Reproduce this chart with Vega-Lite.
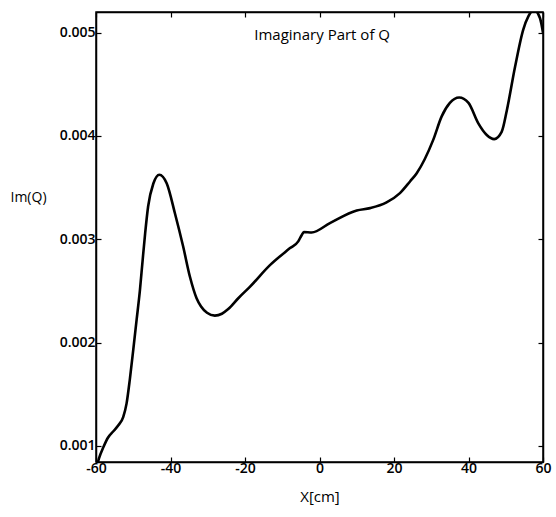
{
  "$schema": "https://vega.github.io/schema/vega-lite/v6.json",
  "width": 447,
  "height": 450,
  "autosize": {"type": "none"},
  "padding": {"left": 96, "top": 12, "right": 13, "bottom": 55},
  "background": "white",
  "config": {
    "view": {"stroke": "black", "strokeWidth": 1.5},
    "font": "Open Sans",
    "axis": {"grid": false, "domainColor": "black", "domainWidth": 1.5, "tickColor": "black", "tickWidth": 1.2, "labelColor": "black", "titleColor": "black"}
  },
  "data": {
    "values": [
      {"x": -59.8, "y": 0.00080},
      {"x": -59.2, "y": 0.00088},
      {"x": -58.0, "y": 0.00099},
      {"x": -56.8, "y": 0.00108},
      {"x": -55.4, "y": 0.00114},
      {"x": -54.0, "y": 0.00120},
      {"x": -52.7, "y": 0.00128},
      {"x": -51.8, "y": 0.00141},
      {"x": -50.9, "y": 0.00165},
      {"x": -50.0, "y": 0.00193},
      {"x": -49.1, "y": 0.00222},
      {"x": -48.2, "y": 0.00251},
      {"x": -47.5, "y": 0.00279},
      {"x": -46.8, "y": 0.00306},
      {"x": -46.0, "y": 0.00332},
      {"x": -44.6, "y": 0.00354},
      {"x": -43.0, "y": 0.003625},
      {"x": -41.0, "y": 0.00354},
      {"x": -38.8, "y": 0.00325},
      {"x": -36.6, "y": 0.00293},
      {"x": -34.8, "y": 0.00264},
      {"x": -33.0, "y": 0.00243},
      {"x": -31.8, "y": 0.00235},
      {"x": -30.2, "y": 0.00229},
      {"x": -28.1, "y": 0.002262},
      {"x": -26.2, "y": 0.00228},
      {"x": -24.5, "y": 0.002325},
      {"x": -21.8, "y": 0.00243},
      {"x": -18.7, "y": 0.00254},
      {"x": -13.3, "y": 0.00275},
      {"x": -7.9, "y": 0.002915},
      {"x": -5.7, "y": 0.00298},
      {"x": -4.8, "y": 0.00304},
      {"x": -4.2, "y": 0.00307},
      {"x": -2.1, "y": 0.003066},
      {"x": 2.8, "y": 0.003157},
      {"x": 10.0, "y": 0.003279},
      {"x": 13.6, "y": 0.003302},
      {"x": 18.0, "y": 0.003357},
      {"x": 21.6, "y": 0.003447},
      {"x": 24.3, "y": 0.00356},
      {"x": 26.1, "y": 0.00364},
      {"x": 30.5, "y": 0.00396},
      {"x": 32.8, "y": 0.00419},
      {"x": 35.0, "y": 0.00432},
      {"x": 37.5, "y": 0.004373},
      {"x": 40.0, "y": 0.00432},
      {"x": 42.6, "y": 0.004125},
      {"x": 44.9, "y": 0.00401},
      {"x": 46.9, "y": 0.00397},
      {"x": 48.9, "y": 0.00404},
      {"x": 50.3, "y": 0.00425},
      {"x": 52.5, "y": 0.00467},
      {"x": 54.7, "y": 0.00503},
      {"x": 56.1, "y": 0.00516},
      {"x": 57.6, "y": 0.00522},
      {"x": 59.2, "y": 0.00514},
      {"x": 60.0, "y": 0.00500}
    ]
  },
  "layer": [
    {
      "mark": {"type": "line", "color": "black", "strokeWidth": 2.6, "interpolate": "monotone", "clip": true},
      "encoding": {
        "x": {
          "field": "x", "type": "quantitative",
          "scale": {"domain": [-60, 60], "nice": false, "zero": false},
          "axis": {
            "orient": "bottom", "values": [-60, -40, -20, 0, 20, 40, 60],
            "labelExpr": "'' + datum.value",
            "tickSize": -5, "labelPadding": 4,
            "labelFont": "Open Sans", "labelFontWeight": 600, "labelFontSize": 14,
            "labelFlush": false,
            "title": "X[cm]", "titleFont": "Open Sans", "titleFontWeight": "normal", "titleFontSize": 15, "titlePadding": 14
          }
        },
        "y": {
          "field": "y", "type": "quantitative",
          "scale": {"domain": [0.000845, 0.0052], "nice": false, "zero": false},
          "axis": {
            "orient": "left", "values": [0.001, 0.002, 0.003, 0.004, 0.005],
            "format": ".3f",
            "tickSize": -5, "labelPadding": 6,
            "labelFont": "Open Sans", "labelFontWeight": 600, "labelFontSize": 14,
            "labelFlush": false,
            "title": "Im(Q)", "titleFont": "Open Sans", "titleFontWeight": "normal", "titleFontSize": 14,
            "titleAngle": 0, "titleAlign": "left", "titleBaseline": "middle", "titleX": -86, "titleY": 185
          }
        }
      }
    },
    {
      "mark": {"type": "line", "strokeOpacity": 0},
      "encoding": {
        "x": {
          "field": "x", "type": "quantitative",
          "axis": {"orient": "top", "values": [-60, -40, -20, 0, 20, 40, 60], "labels": false, "tickSize": -5, "title": null}
        },
        "y": {
          "field": "y", "type": "quantitative",
          "axis": {"orient": "right", "values": [0.001, 0.002, 0.003, 0.004, 0.005], "labels": false, "tickSize": -5, "title": null}
        }
      }
    },
    {
      "data": {"values": [{"label": "Imaginary Part of Q", "x": 0.7, "y": 0.00498}]},
      "mark": {"type": "text", "font": "Open Sans", "fontSize": 15, "color": "black", "align": "center", "baseline": "middle"},
      "encoding": {
        "x": {"field": "x", "type": "quantitative", "axis": null},
        "y": {"field": "y", "type": "quantitative", "axis": null},
        "text": {"field": "label"}
      }
    }
  ],
  "resolve": {"axis": {"x": "independent", "y": "independent"}}
}
